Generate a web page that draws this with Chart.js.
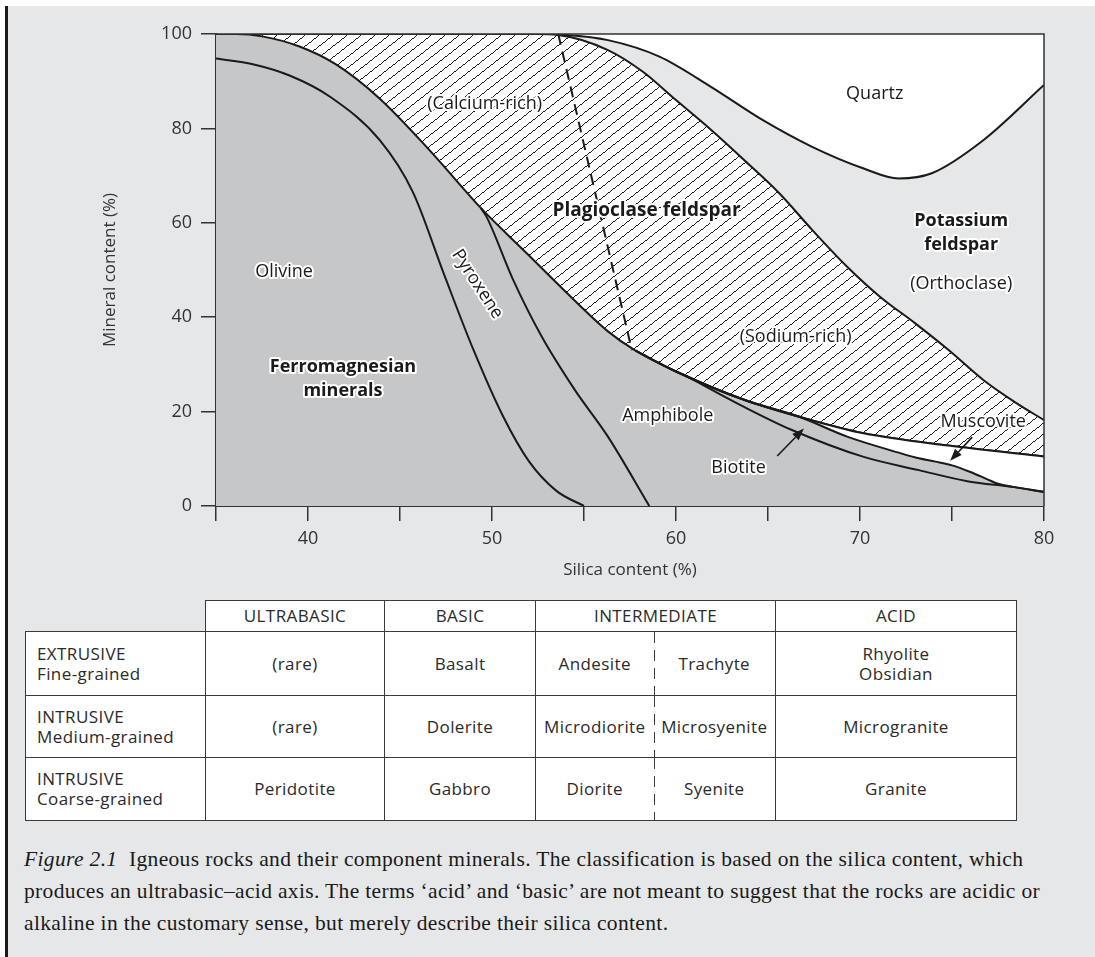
<!DOCTYPE html>
<html>
<head>
<meta charset="utf-8">
<script src="https://cdn.jsdelivr.net/npm/chart.js@4.4.1/dist/chart.umd.min.js"></script>
<style>
html, body { margin: 0; padding: 0; background: #fff; width: 1095px; height: 957px; overflow: hidden; }
#frame { position: absolute; left: 5px; top: 6px; width: 1090px; height: 951px; background: #e6e7e8; border-left: 3px solid #1a1a1a; box-sizing: border-box; }
#chart { position: absolute; left: 0; top: 0; }
table.rocks { position: absolute; left: 25px; top: 600px; border-collapse: collapse; table-layout: fixed;
  font-family: 'Open Sans', sans-serif; font-size: 17px; color: #2a2a2a; letter-spacing: 0.4px; }
table.rocks td { border: 1px solid #3a3a3a; background: #fff; text-align: center; padding: 0; line-height: 20px; }
table.rocks td.empty { border: none; background: transparent; }
table.rocks td.rowhead { text-align: left; padding-left: 11px; }
table.rocks td.midL { border-right: none; }
table.rocks td.midR { border-left: none;
  background-image: repeating-linear-gradient(to bottom, #3a3a3a 0 11px, transparent 11px 18px);
  background-size: 1px 100%; background-repeat: no-repeat; background-position: left top; }
#caption { position: absolute; left: 24px; top: 843px; font-family: 'Liberation Serif', serif; font-size: 21.5px;
  letter-spacing: 0.35px; line-height: 32px; color: #1a1a1a; white-space: nowrap; }
</style>
</head>
<body>
<div id="frame"></div>
<canvas id="chart" width="1095" height="590"></canvas>

<table class="rocks">
  <colgroup>
    <col style="width:180px"><col style="width:179px"><col style="width:151px">
    <col style="width:118px"><col style="width:122px"><col style="width:241px">
  </colgroup>
  <tr style="height:31px">
    <td class="empty"></td><td>ULTRABASIC</td><td>BASIC</td><td colspan="2">INTERMEDIATE</td><td>ACID</td>
  </tr>
  <tr style="height:64px">
    <td class="rowhead">EXTRUSIVE<br>Fine-grained</td><td>(rare)</td><td>Basalt</td>
    <td class="midL">Andesite</td><td class="midR">Trachyte</td><td>Rhyolite<br>Obsidian</td>
  </tr>
  <tr style="height:62px">
    <td class="rowhead">INTRUSIVE<br>Medium-grained</td><td>(rare)</td><td>Dolerite</td>
    <td class="midL">Microdiorite</td><td class="midR">Microsyenite</td><td>Microgranite</td>
  </tr>
  <tr style="height:63px">
    <td class="rowhead">INTRUSIVE<br>Coarse-grained</td><td>Peridotite</td><td>Gabbro</td>
    <td class="midL">Diorite</td><td class="midR">Syenite</td><td>Granite</td>
  </tr>
</table>

<div id="caption"><i>Figure 2.1</i>&nbsp; Igneous rocks and their component minerals. The classification is based on the silica content, which<br>produces an ultrabasic–acid axis. The terms ‘acid’ and ‘basic’ are not meant to suggest that the rocks are acidic or<br>alkaline in the customary sense, but merely describe their silica content.</div>

<script>
// silica content (%) vs mineral content (%)

// top of the ferromagnesian minerals / bottom of plagioclase
const ferroTopX = [35, 36.1, 37.5, 39.5, 41.5, 43.9, 46.6, 49.4, 51.9, 54.0, 56.3, 57.8, 60.0, 63.7, 66.7, 70.2, 74.8, 80]
const ferroTopY = [100, 100, 99.5, 97.4, 93.6, 86.3, 75.4, 63.1, 53.5, 45.4, 37.0, 32.9, 28.5, 22.5, 18.9, 15.4, 12.8, 10.5]

// olivine / pyroxene boundary
const olivineX = [35, 37, 39, 41.2, 43.9, 45.7, 47.4, 49.0, 50.6, 52.0, 53.5, 55.0]
const olivineY = [94.8, 93.6, 91.2, 86.7, 77.5, 66.5, 49.0, 33.0, 19.0, 9.5, 3.2, 0]

// pyroxene / amphibole boundary
const pyroxeneX = [49.4, 49.7, 51.15, 52.7, 54.5, 56.3, 58.55]
const pyroxeneY = [63.1, 61.3, 47.9, 35.9, 24.6, 14.7, 0]

// amphibole / biotite boundary
const biotiteX = [60.4, 63.7, 66.3, 70.2, 73.2, 75.9, 78.3, 80]
const biotiteY = [27.9, 21.0, 16.1, 10.4, 7.6, 5.2, 4.05, 3.0]

// biotite / muscovite boundary
const muscoviteX = [66.7, 69.3, 72.1, 73.2, 74.1, 75.0, 76.0, 76.9, 77.5, 78.3]
const muscoviteY = [18.9, 14.7, 11.3, 10.1, 9.4, 8.6, 7.2, 5.7, 4.7, 4.05]

// top of plagioclase / bottom of potassium feldspar
const plagTopX = [35, 52.3, 53.6, 56.3, 58.2, 60.0, 61.9, 63.7, 65.6, 67.4, 69.3, 71.1, 73.0, 74.8, 76.7, 78.5, 80]
const plagTopY = [100, 100, 99.8, 96.6, 92.0, 86.0, 79.7, 73.3, 66.3, 58.5, 50.7, 44.3, 38.7, 33.1, 26.7, 21.8, 18.2]

// bottom of quartz
const quartzX = [35, 52.3, 53.6, 56.3, 59.1, 61.9, 64.7, 67.4, 70.2, 72.1, 73.9, 76.7, 80]
const quartzY = [100, 100, 99.9, 98.7, 95.2, 88.8, 81.8, 76.1, 71.5, 69.4, 70.5, 77.5, 89.2]

// calcium-rich / sodium-rich divide
const caNaX = [53.6, 57.6]
const caNaY = [100, 33.0]

const lineColor = '#1a1a1a'
const textColor = '#2a2a2a'
const darkGrey = '#c6c7c9'
const lightGrey = '#e6e7e8'
Chart.defaults.font.family = "'Open Sans', sans-serif"
Chart.defaults.color = textColor

const pts = (xs, ys) => xs.map((x, i) => ({x: x, y: ys[i]}))

// muscovite patch: white between plagioclase bottom and muscovite line
const muscTop = pts(ferroTopX, ferroTopY).filter(p => p.x >= 57.8)
const muscBottom = pts(ferroTopX, ferroTopY).filter(p => p.x >= 57.8 && p.x < muscoviteX[0])
  .concat(pts(muscoviteX, muscoviteY))
  .concat(pts(biotiteX, biotiteY).filter(p => p.x > muscoviteX[muscoviteX.length - 1]))

function makeHatch() {
    const w = 14, h = 11
    const c = document.createElement('canvas')
    c.width = w
    c.height = h
    const g = c.getContext('2d')
    g.fillStyle = '#fff'
    g.fillRect(0, 0, w, h)
    g.fillStyle = lineColor
    for (let i = 0; i < w; i++) {
        g.fillRect(i, Math.floor(h - (i + 0.5) * h / w), 1, 1)
    }
    return g.createPattern(c, 'repeat')
}

const curve = (data, extra) => Object.assign({
    data: data,
    borderColor: lineColor,
    borderWidth: 2,
    pointRadius: 0,
    cubicInterpolationMode: 'monotone',
    fill: false
}, extra)

const annotations = [
    {text: '(Calcium-rich)', x: 49.6, y: 85.2},
    {text: 'Plagioclase feldspar', x: 58.4, y: 62.5, bold: true, size: 19},
    {text: 'Olivine', x: 38.7, y: 49.6},
    {text: 'Pyroxene', x: 49.2, y: 47.0, angle: 57},
    {text: 'Ferromagnesian', x: 41.9, y: 29.4, bold: true},
    {text: 'minerals', x: 41.9, y: 24.3, bold: true},
    {text: 'Quartz', x: 70.8, y: 87.3, plain: true},
    {text: 'Potassium', x: 75.5, y: 60.4, bold: true},
    {text: 'feldspar', x: 75.5, y: 55.3, bold: true},
    {text: '(Orthoclase)', x: 75.5, y: 47.0},
    {text: '(Sodium-rich)', x: 66.5, y: 35.8},
    {text: 'Amphibole', x: 59.55, y: 19.1},
    {text: 'Biotite', x: 63.4, y: 8.1},
    {text: 'Muscovite', x: 76.7, y: 17.8}
]
const arrows = [
    {from: [65.5, 10.6], to: [66.95, 16.4]},
    {from: [76.1, 14.6], to: [74.9, 9.6]}
]

const plotPlugin = {
    id: 'plotDecor',
    beforeDraw(chart) {
        const {ctx, chartArea: a} = chart
        ctx.save()
        ctx.fillStyle = '#fff'
        ctx.fillRect(a.left, a.top, a.right - a.left, a.bottom - a.top)
        ctx.restore()
    },
    afterDatasetsDraw(chart) {
        const {ctx, chartArea: a, scales: {x, y}} = chart
        ctx.save()
        ctx.strokeStyle = '#333'
        ctx.lineWidth = 1.5
        ctx.beginPath()
        ctx.moveTo(a.left, a.top)
        ctx.lineTo(a.right, a.top)
        ctx.lineTo(a.right, a.bottom)
        ctx.stroke()

        // arrows
        ctx.strokeStyle = lineColor
        ctx.fillStyle = lineColor
        ctx.lineWidth = 1.6
        arrows.forEach(ar => {
            const x0 = x.getPixelForValue(ar.from[0]), y0 = y.getPixelForValue(ar.from[1])
            const x1 = x.getPixelForValue(ar.to[0]), y1 = y.getPixelForValue(ar.to[1])
            const ang = Math.atan2(y1 - y0, x1 - x0)
            const len = 12, half = 4.5
            const bx = x1 - len * Math.cos(ang), by = y1 - len * Math.sin(ang)
            ctx.beginPath()
            ctx.moveTo(x0, y0)
            ctx.lineTo(bx, by)
            ctx.stroke()
            ctx.beginPath()
            ctx.moveTo(x1, y1)
            ctx.lineTo(bx + half * Math.sin(ang), by - half * Math.cos(ang))
            ctx.lineTo(bx - half * Math.sin(ang), by + half * Math.cos(ang))
            ctx.closePath()
            ctx.fill()
        })

        // region labels with a white halo
        ctx.textAlign = 'center'
        ctx.textBaseline = 'middle'
        ctx.lineJoin = 'round'
        annotations.forEach(l => {
            const px = x.getPixelForValue(l.x), py = y.getPixelForValue(l.y)
            ctx.save()
            ctx.translate(px, py)
            if (l.angle) ctx.rotate(l.angle * Math.PI / 180)
            ctx.font = (l.bold ? 'bold ' : '') + (l.size || 18) + "px 'Open Sans', sans-serif"
            if (!l.plain) {
                ctx.strokeStyle = '#fff'
                ctx.lineWidth = 4
                ctx.strokeText(l.text, 0, 0)
            }
            ctx.fillStyle = '#1a1a1a'
            ctx.fillText(l.text, 0, 0)
            ctx.restore()
        })
        ctx.restore()
    }
}

const igneousConfig = {
    type: 'line',
    data: {
        datasets: [
            curve(pts(caNaX, caNaY), {borderDash: [11, 7], order: 1}),
            curve(pts(olivineX, olivineY), {order: 2}),
            curve(pts(pyroxeneX, pyroxeneY), {order: 2}),
            curve(pts(biotiteX, biotiteY), {order: 2}),
            curve(muscBottom, {order: 6}),
            // white muscovite band, filled down to the muscovite line (dataset 4)
            curve(muscTop, {fill: 4, backgroundColor: '#fff', order: 7}),
            curve(pts(ferroTopX, ferroTopY), {fill: 'start', backgroundColor: darkGrey, order: 8}),
            curve(pts(plagTopX, plagTopY), {fill: 'start', backgroundColor: makeHatch(), order: 9}),
            curve(pts(quartzX, quartzY), {fill: 'start', backgroundColor: lightGrey, order: 10})
        ]
    },
    options: {
        responsive: false,
        animation: false,
        events: [],
        layout: {padding: {left: 0, top: 34, right: 51, bottom: 0}},
        plugins: {
            legend: {display: false},
            tooltip: {enabled: false}
        },
        scales: {
            x: {
                type: 'linear',
                min: 35,
                max: 80,
                z: 1,
                afterFit: s => { s.height = 84 },
                ticks: {
                    stepSize: 5,
                    autoSkip: false,
                    maxRotation: 0,
                    padding: 7,
                    color: '#333',
                    font: {size: 18},
                    callback: v => (v % 10 === 0 ? String(v) : '')
                },
                grid: {drawOnChartArea: false, tickLength: 15, color: '#333', lineWidth: 1.5},
                border: {color: '#333', width: 2},
                title: {
                    display: true,
                    text: 'Silica content (%)',
                    color: '#333',
                    font: {size: 17},
                    padding: {top: 0, bottom: 10}
                }
            },
            y: {
                min: 0,
                max: 100,
                z: 1,
                afterFit: s => { s.width = 216 },
                ticks: {
                    stepSize: 20,
                    padding: 9,
                    color: '#333',
                    font: {size: 18}
                },
                grid: {drawOnChartArea: false, tickLength: 15, color: '#333', lineWidth: 1.5},
                border: {color: '#333', width: 2},
                title: {
                    display: true,
                    text: 'Mineral content (%)',
                    color: '#333',
                    font: {size: 17},
                    padding: {top: 100, bottom: 0}
                }
            }
        }
    },
    plugins: [plotPlugin]
}

const igneousChart = new Chart(document.getElementById('chart'), igneousConfig)
</script>
</body>
</html>
